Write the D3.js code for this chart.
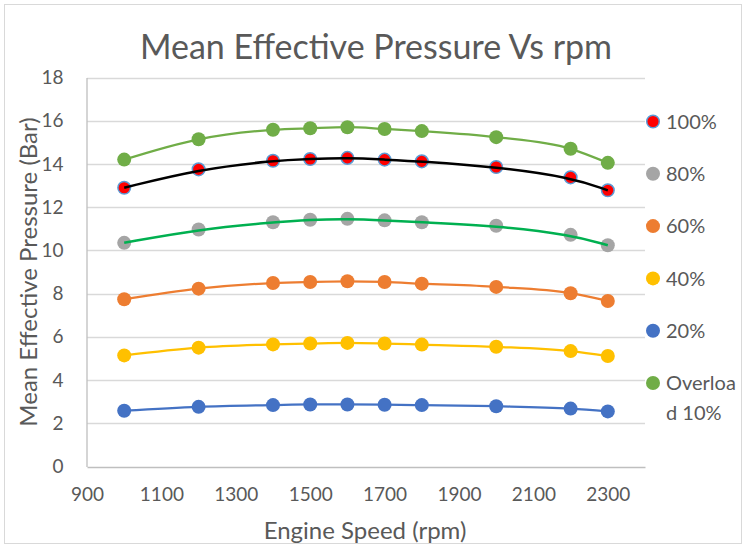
<!DOCTYPE html>
<html>
<head>
<meta charset="utf-8">
<script src="https://cdn.jsdelivr.net/npm/d3@7"></script>
<style>
  body { margin: 0; background: #fff; }
  text { font-family: Lato, "Open Sans", sans-serif; fill: #595959; }
</style>
</head>
<body>
<svg id="chart" width="746" height="548"></svg>
<script>
    // data
    var rpm = [1000, 1200, 1400, 1500, 1600, 1700, 1800, 2000, 2200, 2300];
    var load100 = [12.9, 13.75, 14.15, 14.23, 14.28, 14.2, 14.12, 13.86, 13.38, 12.78];
    var load80 = [10.35, 10.97, 11.3, 11.42, 11.46, 11.39, 11.3, 11.14, 10.72, 10.24];
    var load60 = [7.74, 8.23, 8.49, 8.54, 8.57, 8.54, 8.46, 8.31, 8.02, 7.66];
    var load40 = [5.14, 5.5, 5.65, 5.69, 5.72, 5.69, 5.64, 5.54, 5.34, 5.11];
    var load20 = [2.58, 2.76, 2.84, 2.87, 2.87, 2.86, 2.84, 2.79, 2.68, 2.55];
    var overload10 = [14.2, 15.14, 15.58, 15.65, 15.7, 15.62, 15.52, 15.24, 14.7, 14.05];

    var xTicks = [900, 1100, 1300, 1500, 1700, 1900, 2100, 2300];
    var yTicks = [0, 2, 4, 6, 8, 10, 12, 14, 16, 18];

    var series = [
        {name: "100%", values: load100, fill: "#ff0000", stroke: "#5b9bd5", line: "#000000", trend: true},
        {name: "80%", values: load80, fill: "#a5a5a5", stroke: "none", line: "#00b050", trend: true},
        {name: "60%", values: load60, fill: "#ed7d31", stroke: "none", line: "#ed7d31"},
        {name: "40%", values: load40, fill: "#ffc000", stroke: "none", line: "#ffc000"},
        {name: "20%", values: load20, fill: "#4472c4", stroke: "none", line: "#4472c4"},
        {name: "Overload 10%", values: overload10, fill: "#70ad47", stroke: "none", line: "#70ad47"}
    ];

    var svg = d3.select("#chart"),
        plotLeft = 87, plotRight = 645, plotTop = 77.5, plotBottom = 466.5;

    // outer border
    svg.append("rect")
        .attr("x", 4.5).attr("y", 4.5)
        .attr("width", 737).attr("height", 539)
        .attr("fill", "#fff")
        .attr("stroke", "#d9d9d9");

    var x = d3.scaleLinear().domain([900, 2400]).range([plotLeft, plotRight]);
    var y = d3.scaleLinear().domain([0, 18]).range([plotBottom, plotTop]);

    // gridlines
    svg.append("g")
        .selectAll("line")
        .data(yTicks.filter(function (d) {return d > 0;}))
        .enter()
        .append("line")
        .attr("x1", plotLeft).attr("x2", plotRight)
        .attr("y1", function (d) {return Math.round(y(d)) + 0.5;})
        .attr("y2", function (d) {return Math.round(y(d)) + 0.5;})
        .style("stroke", "#d9d9d9")
        .style("stroke-width", 1.3);

    // axes
    var yAxis = svg.append("g")
        .attr("transform", "translate(" + (plotLeft - 0.5) + ",0)")
        .call(d3.axisLeft(y).tickValues(yTicks).tickSize(0).tickPadding(23));
    var xAxis = svg.append("g")
        .attr("transform", "translate(0," + (plotBottom + 0.5) + ")")
        .call(d3.axisBottom(x).tickValues(xTicks).tickSize(0).tickPadding(20).tickFormat(d3.format("d")));

    [xAxis, yAxis].forEach(function (a) {
        a.select(".domain").style("stroke", "#bfbfbf").style("stroke-width", 1.3);
        a.selectAll("text").style("font-size", "19px").style("fill", "#595959")
            .style("font-family", "Lato, sans-serif");
    });
    xAxis.selectAll("text").attr("dy", "0.75em");

    // lines
    var lineSmooth = d3.line()
        .x(function (d) {return x(d[0]);})
        .y(function (d) {return y(d[1]);})
        .curve(d3.curveMonotoneX);
    var lineTrend = d3.line()
        .x(function (d) {return x(d[0]);})
        .y(function (d) {return y(d[1]);})
        .curve(d3.curveBasis);

    var groups = svg.selectAll(".series")
        .data(series)
        .enter()
        .append("g")
        .attr("class", "series");

    groups.filter(function (d) {return !d.trend;})
        .append("path")
        .attr("d", function (d) {return lineSmooth(d3.zip(rpm, d.values));})
        .attr("fill", "none")
        .style("stroke", function (d) {return d.line;})
        .style("stroke-width", 2.25);

    groups.each(function (s) {
        var g = d3.select(this);
        g.selectAll("circle")
            .data(d3.zip(rpm, s.values))
            .enter()
            .append("circle")
            .attr("cx", function (d) {return x(d[0]);})
            .attr("cy", function (d) {return y(d[1]);})
            .attr("r", s.stroke === "none" ? 7 : 6.3)
            .style("fill", s.fill)
            .style("stroke", s.stroke)
            .style("stroke-width", 1.5);
    });

    // trendlines drawn over the markers
    groups.filter(function (d) {return d.trend;})
        .append("path")
        .attr("d", function (d) {return lineTrend(d3.zip(rpm, d.values));})
        .attr("fill", "none")
        .style("stroke", function (d) {return d.line;})
        .style("stroke-width", 2.5);

    // legend
    var legend = svg.selectAll(".legend")
        .data(series)
        .enter()
        .append("g")
        .attr("class", "legend")
        .attr("transform", function (d, i) {return "translate(653," + (121.5 + i * 52.3) + ")";});

    legend.append("circle")
        .attr("r", function (d) {return d.stroke === "none" ? 7 : 6.3;})
        .style("fill", function (d) {return d.fill;})
        .style("stroke", function (d) {return d.stroke;})
        .style("stroke-width", 1.5);

    legend.append("text")
        .attr("x", 13)
        .attr("dy", "0.36em")
        .style("font-size", "20px")
        .each(function (d) {
            var t = d3.select(this);
            if (d.name === "Overload 10%") {
                t.append("tspan").attr("x", 13).text("Overloa");
                t.append("tspan").attr("x", 13).attr("dy", "1.5em").text("d 10%");
            } else {
                t.text(d.name);
            }
        });

    // titles
    svg.append("text")
        .attr("x", 376)
        .attr("y", 59)
        .attr("text-anchor", "middle")
        .style("font-size", "34px")
        .text("Mean Effective Pressure Vs rpm");

    svg.append("text")
        .attr("x", 365)
        .attr("y", 539)
        .attr("text-anchor", "middle")
        .style("font-size", "24px")
        .text("Engine Speed (rpm)");

    svg.append("text")
        .attr("transform", "translate(37,272) rotate(-90)")
        .attr("text-anchor", "middle")
        .style("font-size", "24px")
        .text("Mean Effective Pressure (Bar)");
</script>
</body>
</html>
